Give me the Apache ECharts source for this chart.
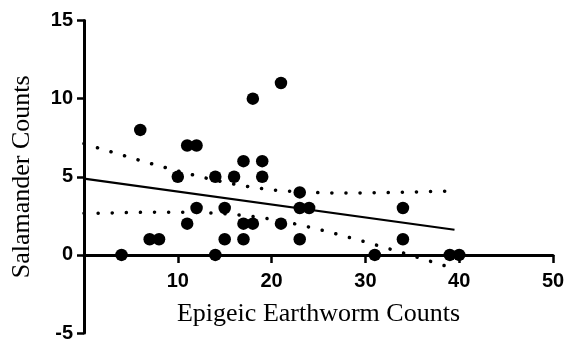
<!DOCTYPE html>
<html>
<head>
<meta charset="utf-8">
<script src="https://cdn.jsdelivr.net/npm/echarts@6/dist/echarts.min.js"></script>
<style>
html,body{margin:0;padding:0;background:#fff;}
#chart{width:568px;height:341px;}
</style>
</head>
<body>
<div id="chart"></div>
<script>
// Observed points (Epigeic Earthworm Counts, Salamander Counts)
const wormCounts = [4, 6, 7, 8, 10, 11, 12, 11, 12, 14, 14, 15, 15, 16, 17, 17, 17, 18, 18, 19, 19, 21, 21, 23, 23, 24, 23, 34, 34, 31, 39, 40];
const salamanderCounts = [0, 8, 1, 1, 5, 7, 7, 2, 3, 0, 5, 3, 1, 5, 6, 2, 1, 10, 2, 6, 5, 11, 2, 4, 3, 3, 1, 3, 1, 0, 0, 0];

// Fitted regression line
const fitX = [0, 39.5];
const fitY = [4.88, 1.61];

// 95% confidence band
const bandX = [0, 2, 4, 6, 8, 10, 12, 14, 16, 18, 20, 22, 24, 26, 28, 30, 32, 34, 36, 38, 39.5];
const bandUpper = [7.12, 6.75, 6.40, 6.04, 5.70, 5.37, 5.06, 4.77, 4.53, 4.32, 4.16, 4.07, 4.00, 3.97, 3.96, 3.97, 3.98, 4.01, 4.04, 4.07, 4.10];
const bandLower = [2.66, 2.67, 2.70, 2.72, 2.74, 2.73, 2.72, 2.67, 2.59, 2.46, 2.28, 2.05, 1.78, 1.49, 1.16, 0.83, 0.48, 0.13, -0.24, -0.61, -0.88];

// Axis ticks
const xTicks = { min: 0, max: 50, step: 10 };
const yTicks = { min: -5, max: 15, step: 5 };

const pairs = (a, b) => a.map((v, i) => [v, b[i]]);

const chart = echarts.init(document.getElementById('chart'), null, { renderer: 'canvas' });

const GRID = { left: 84, right: 15, top: 20.5, bottom: 8 };
const plotH = 341 - GRID.top - GRID.bottom;
// move the x axis up so it sits where y = 0
const xAxisShift = -plotH * (0 - yTicks.min) / (yTicks.max - yTicks.min);

const dotted = {
  color: '#000',
  width: 3.5,
  type: [0.1, 14],
  cap: 'round'
};

chart.setOption({
  animation: false,
  backgroundColor: '#fff',
  grid: Object.assign({ containLabel: false, outerBoundsMode: 'none' }, GRID),
  xAxis: {
    type: 'value',
    position: 'bottom',
    offset: xAxisShift,
    min: xTicks.min, max: xTicks.max, interval: xTicks.step,
    axisLine: { onZero: false, lineStyle: { color: '#000', width: 3 } },
    axisTick: { show: true, inside: false, length: 8, lineStyle: { color: '#000', width: 2.5 } },
    axisLabel: {
      showMinLabel: false,
      margin: 17,
      color: '#000',
      fontFamily: 'Liberation Sans, Arial, sans-serif',
      fontWeight: 'bold',
      fontSize: 20
    },
    splitLine: { show: false },
    name: 'Epigeic Earthworm Counts',
    nameLocation: 'middle',
    nameGap: 46,
    nameTextStyle: {
      color: '#000',
      fontFamily: 'Liberation Serif, Times New Roman, serif',
      fontSize: 26
    }
  },
  yAxis: {
    type: 'value',
    min: yTicks.min, max: yTicks.max, interval: yTicks.step,
    axisLine: { show: true, onZero: false, lineStyle: { color: '#000', width: 3 } },
    axisTick: { show: true, inside: false, length: 7, lineStyle: { color: '#000', width: 2.5 } },
    axisLabel: {
      margin: 11,
      color: '#000',
      fontFamily: 'Liberation Sans, Arial, sans-serif',
      fontWeight: 'bold',
      fontSize: 20
    },
    splitLine: { show: false },
    name: 'Salamander Counts',
    nameLocation: 'middle',
    nameGap: 49,
    nameTextStyle: {
      color: '#000',
      fontFamily: 'Liberation Serif, Times New Roman, serif',
      fontSize: 26
    }
  },
  series: [
    {
      type: 'line',
      data: pairs(bandX, bandUpper),
      showSymbol: false,
      symbol: 'none',
      lineStyle: dotted,
      z: 1
    },
    {
      type: 'line',
      data: pairs(bandX, bandLower),
      showSymbol: false,
      symbol: 'none',
      lineStyle: dotted,
      z: 1
    },
    {
      type: 'line',
      data: pairs(fitX, fitY),
      showSymbol: false,
      symbol: 'none',
      lineStyle: { color: '#000', width: 2.2 },
      z: 2
    },
    {
      type: 'scatter',
      data: pairs(wormCounts, salamanderCounts),
      symbol: 'circle',
      symbolSize: 12.5,
      itemStyle: { color: '#000', opacity: 1 },
      z: 3
    }
  ]
});
</script>
</body>
</html>
